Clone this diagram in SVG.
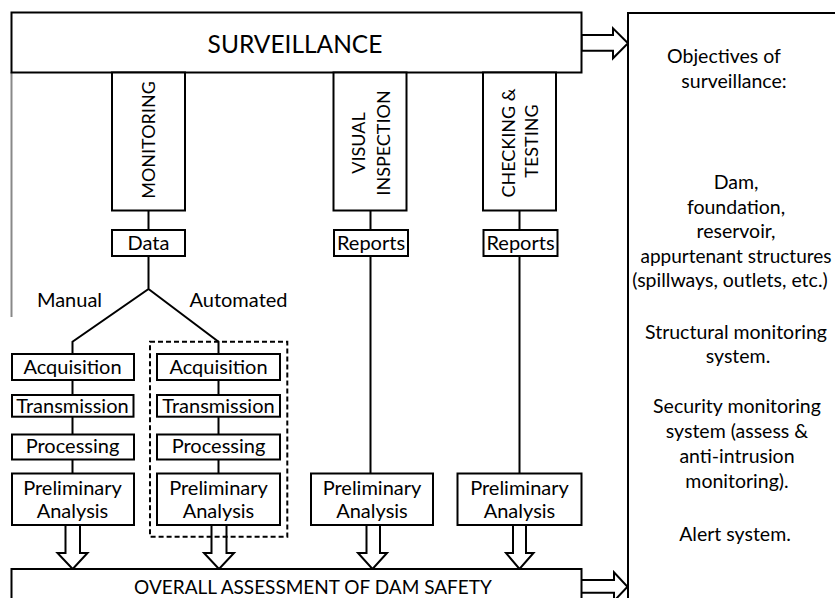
<svg xmlns="http://www.w3.org/2000/svg" width="835" height="598" viewBox="0 0 835 598">
<style>
.bx{fill:#fff;stroke:#000;stroke-width:2}
.ln{fill:none;stroke:#000;stroke-width:2}
.ar{fill:#fff;stroke:#000;stroke-width:2;stroke-linejoin:miter}
text{font-family:Lato,"Liberation Sans",sans-serif;fill:#000;text-anchor:middle}
.b{font-size:20px}
.v{font-size:18px}
.r{font-size:19.5px}
</style>
<rect width="835" height="598" fill="#fff"/>
<line x1="11.5" y1="72" x2="11.5" y2="317" stroke="#888" stroke-width="2"/>
<g id="connectors">
<path class="ln" d="M148.5 210.5V230M148.5 256V289L72.5 341.7V354M148.5 289L218.5 341.7V354"/>
<path class="ln" d="M72.5 380V395M72.5 416.7V434.5M72.5 459.5V473.5"/>
<path class="ln" d="M218.5 380V395M218.5 416.7V434.5M218.5 459.5V473.5"/>
<path class="ln" d="M370.5 210.5V230M370.5 256V473.5"/>
<path class="ln" d="M519.5 210.5V230M519.5 256V473.5"/>
<polygon class="ar" points="581.5,35 613,35 613,28.3 628,43.3 613,58.3 613,50.7 581.5,50.7"/>
<polygon class="ar" points="581,580 614,580 614,572.3 627.5,586.7 614,601 614,592.7 581,592.7"/>
<polygon class="ar" points="65.5,525 80,525 80,553 87.5,553 72.7,569 57.5,553 65.5,553"/>
<polygon class="ar" points="211.5,525 226.5,525 226.5,553 234,553 219,569 204,553 211.5,553"/>
<polygon class="ar" points="366.5,525 380,525 380,553 387,553 372.5,569 358,553 366.5,553"/>
<polygon class="ar" points="513,525 526,525 526,553 533.5,553 519.5,569 506,553 513,553"/>
</g>
<g id="surveillance"><rect class="bx" x="11.5" y="12.5" width="570" height="60"/><text x="295" y="53" style="font-size:24.5px">SURVEILLANCE</text></g>
<g id="objectives"><rect class="bx" x="628" y="13" width="240" height="620"/>
<text class="r" x="724" y="63">Objectives of</text>
<text class="r" x="734" y="88">surveillance:</text>
<text class="r" x="736" y="189">Dam,</text>
<text class="r" x="736" y="214">foundation,</text>
<text class="r" x="736" y="238">reservoir,</text>
<text class="r" x="736" y="263" style="font-size:19px">appurtenant structures</text>
<text class="r" x="730" y="287">(spillways, outlets, etc.)</text>
<text class="r" x="736" y="339">Structural monitoring</text>
<text class="r" x="738" y="363">system.</text>
<text class="r" x="737" y="413">Security monitoring</text>
<text class="r" x="737" y="438">system (assess &amp;</text>
<text class="r" x="737" y="463">anti-intrusion</text>
<text class="r" x="737" y="488">monitoring).</text>
<text class="r" x="735" y="541">Alert system.</text>
</g>
<g id="monitoring"><rect class="bx" x="112" y="72.5" width="73" height="138"/><text class="v" transform="translate(155,140) rotate(-90)">MONITORING</text></g>
<g id="visual"><rect class="bx" x="333.5" y="72.5" width="73" height="138"/><text class="v" transform="translate(365,143) rotate(-90)">VISUAL</text><text class="v" transform="translate(390,143) rotate(-90)">INSPECTION</text></g>
<g id="checking"><rect class="bx" x="483" y="72.5" width="73" height="138"/><text class="v" transform="translate(515,143) rotate(-90)">CHECKING &amp;</text><text class="v" transform="translate(538,141) rotate(-90)">TESTING</text></g>
<g id="data"><rect class="bx" x="112" y="230" width="73" height="26"/><text class="b" x="148.5" y="250">Data</text></g>
<g id="reports1"><rect class="bx" x="334" y="230" width="74" height="26"/><text class="b" x="371" y="250">Reports</text></g>
<g id="reports2"><rect class="bx" x="483.5" y="230" width="74" height="26"/><text class="b" x="520.5" y="250">Reports</text></g>
<g id="labels"><text class="b" x="69.5" y="307">Manual</text><text class="b" x="238.5" y="307">Automated</text></g>
<g id="automated-group"><rect x="150" y="341.7" width="137.3" height="195" fill="none" stroke="#000" stroke-width="2" stroke-dasharray="5,3"/></g>
<g id="acq-m"><rect class="bx" x="12" y="354" width="122" height="26"/><text class="b" x="72.5" y="374">Acquisition</text></g>
<g id="acq-a"><rect class="bx" x="157" y="354" width="123" height="26"/><text class="b" x="218.5" y="374">Acquisition</text></g>
<g id="tra-m"><rect class="bx" x="12" y="395" width="121.5" height="21.7"/><text class="b" x="72.5" y="413">Transmission</text></g>
<g id="tra-a"><rect class="bx" x="157" y="395" width="123" height="21.7"/><text class="b" x="218.5" y="413">Transmission</text></g>
<g id="pro-m"><rect class="bx" x="12" y="434.5" width="122" height="25"/><text class="b" x="72.5" y="453">Processing</text></g>
<g id="pro-a"><rect class="bx" x="157" y="434.5" width="123" height="25"/><text class="b" x="218.5" y="453">Processing</text></g>
<g id="pre-m"><rect class="bx" x="12" y="473.5" width="122" height="51.5"/><text class="b" x="72.5" y="495">Preliminary</text><text class="b" x="72.5" y="518">Analysis</text></g>
<g id="pre-a"><rect class="bx" x="157" y="473.5" width="123" height="51.5"/><text class="b" x="218.5" y="495">Preliminary</text><text class="b" x="218.5" y="518">Analysis</text></g>
<g id="pre-v"><rect class="bx" x="311" y="473.5" width="122" height="51.5"/><text class="b" x="372" y="495">Preliminary</text><text class="b" x="372" y="518">Analysis</text></g>
<g id="pre-c"><rect class="bx" x="457.5" y="473.5" width="124" height="51.5"/><text class="b" x="519.5" y="495">Preliminary</text><text class="b" x="519.5" y="518">Analysis</text></g>
<g id="overall"><rect class="bx" x="11.5" y="569" width="570" height="60"/><text x="313" y="594" style="font-size:19px">OVERALL ASSESSMENT OF DAM SAFETY</text></g>
</svg>
